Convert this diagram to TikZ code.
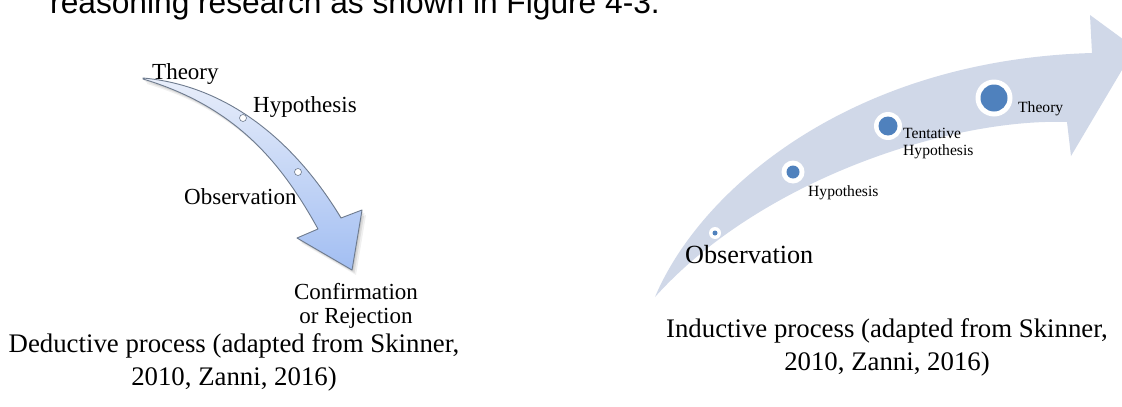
\documentclass[tikz,border=0pt]{standalone}
\usepackage{fontspec}
\setmainfont{Liberation Serif}
\newfontfamily\headfont{Liberation Sans}
\begin{document}
\begin{tikzpicture}[x=1pt,y=-1pt]
\definecolor{indfill}{HTML}{D0D8E8}
\definecolor{dotblue}{HTML}{4F81BD}
\definecolor{dedtop}{HTML}{E8EEFA}
\definecolor{dedbot}{HTML}{A2BEF2}
\definecolor{dedline}{HTML}{6E7B8E}
\tikzset{
  txt/.style={inner sep=0pt, anchor=base west},
  txtc/.style={inner sep=0pt, anchor=base},
  bigserif/.style={font=\fontsize{23}{27}\selectfont},
  smallserif/.style={font=\fontsize{15.6}{17}\selectfont},
  capserif/.style={font=\fontsize{26.8}{31}\selectfont},
  ring/.style={circle, draw=dedline, fill=white, inner sep=0pt, minimum size=7pt, line width=0.6pt},
  halo/.style={circle, fill=white, inner sep=0pt, minimum size=#1},
  dot/.style={circle, fill=dotblue, inner sep=0pt, minimum size=#1}
}
\newcommand\dedshape[1]{%
  \path[#1] (143,78) .. controls (233,86) and (299,148) .. (341,218)
    -- (362,210) -- (352,270) -- (297,238) -- (318,229)
    .. controls (279.5,159) and (233,106) .. (143,79) -- cycle;}

\useasboundingbox (0,0) rectangle (1122,407);
\clip (0,0) rectangle (1122,407);
\fill[white] (0,0) rectangle (1122,407);

% running text line above the figures
\node[txt, font=\headfont\fontsize{31.7}{36}\selectfont] (head) at (50,13)
  {reasoning research as shown in Figure 4-3.};

% ---- deductive process: downward curved arrow ----
\dedshape{fill=black, opacity=0.06, shift={(4,5)}}
\dedshape{fill=black, opacity=0.08, shift={(2.5,3)}}
\dedshape{fill=black, opacity=0.08, shift={(1.2,1.5)}}
\dedshape{top color=dedtop, bottom color=dedbot, draw=dedline, line width=0.9pt, line join=round}
\node[ring] (dhyp) at (243,118) {};
\node[ring] (dobs) at (298,172) {};

\node[txt, bigserif] (dtheory) at (152,79) {Theory};
\node[txt, bigserif] (dhyplbl) at (253,112) {Hypothesis};
\node[txt, bigserif] (dobslbl) at (184,204) {Observation};
\node[txtc, bigserif] (conf1) at (356,299) {Confirmation};
\node[txtc, bigserif] (conf2) at (356,323) {or Rejection};

\node[txtc, capserif] (dcap1) at (234,352) {Deductive process (adapted from Skinner,};
\node[txtc, capserif] (dcap2) at (234,385) {2010, Zanni, 2016)};

% ---- inductive process: rising arrow ----
\path[fill=indfill] (655,297) .. controls (700,190) and (850,60) .. (1092,53)
  -- (1090,15) -- (1135,48) -- (1071,156) -- (1067,122)
  .. controls (950,118) and (760,180) .. (655,297) -- cycle;

\node[halo=12pt] (iobs) at (715,233) {};
\node[dot=5pt] at (iobs) {};
\node[halo=23pt] (ihyp) at (793,172) {};
\node[dot=13pt] at (ihyp) {};
\node[halo=28pt] (itent) at (888,126) {};
\node[dot=19pt] at (itent) {};
\node[halo=37pt] (itheory) at (994,98) {};
\node[dot=27pt] at (itheory) {};

\node[txt, font=\fontsize{26.2}{30}\selectfont] (iobslbl) at (685,263) {Observation};
\node[txt, smallserif] (ihyplbl) at (808,196) {Hypothesis};
\node[txt, smallserif] (itent1) at (903,138) {Tentative};
\node[txt, smallserif] (itent2) at (903,155) {Hypothesis};
\node[txt, smallserif] (ithlbl) at (1018,112) {Theory};

\node[txtc, capserif] (icap1) at (887,337) {Inductive process (adapted from Skinner,};
\node[txtc, capserif] (icap2) at (887,370) {2010, Zanni, 2016)};
\end{tikzpicture}
\end{document}
